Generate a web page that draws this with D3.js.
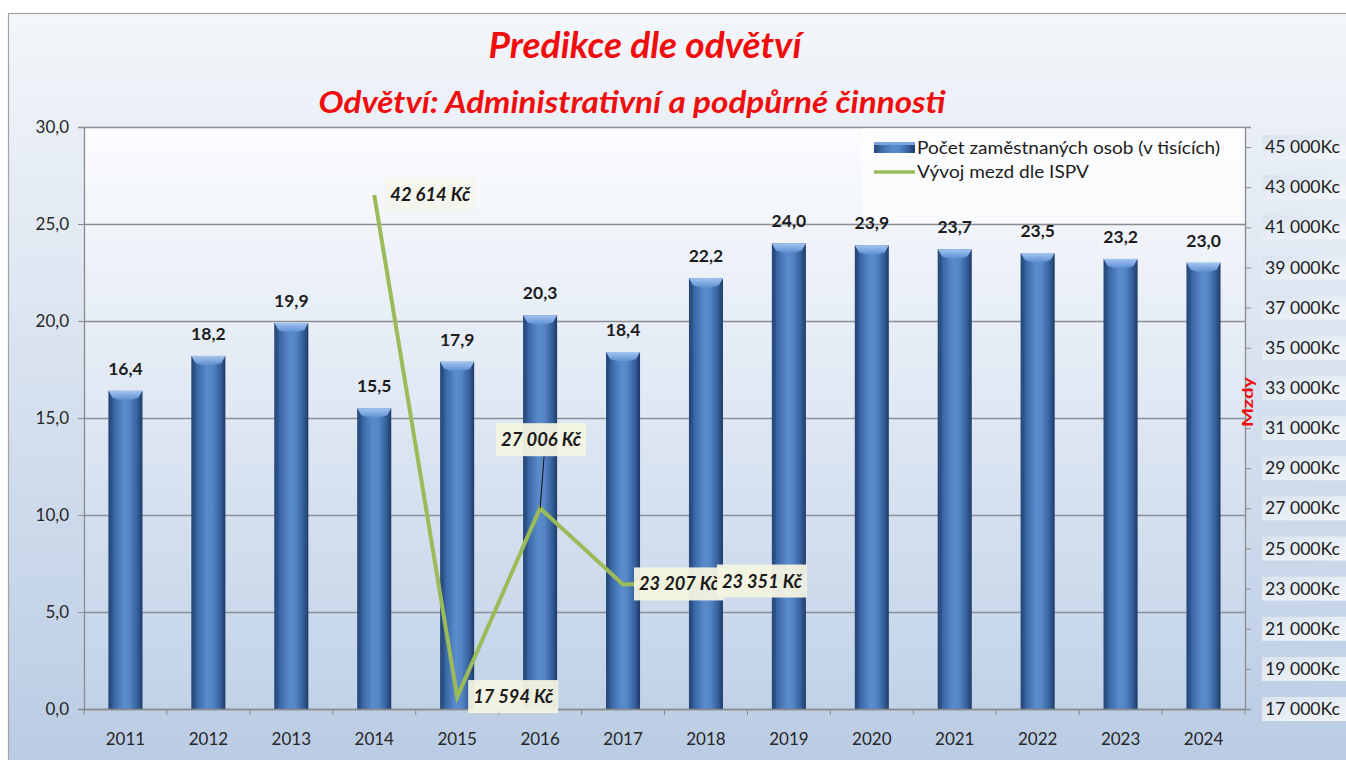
<!DOCTYPE html>
<html>
<head>
<meta charset="utf-8">
<script src="https://cdn.jsdelivr.net/npm/d3@7"></script>
<style>
  html, body { margin: 0; padding: 0; background: #ffffff; }
  svg { display: block; }
  text { font-family: Lato, "Open Sans", "DejaVu Sans", sans-serif; }
</style>
</head>
<body>
<svg id="chart" width="1346" height="760"></svg>
<script>
// ---------- DATA ----------
const years = ["2011","2012","2013","2014","2015","2016","2017","2018","2019","2020","2021","2022","2023","2024"];
const employees = [16.4, 18.2, 19.9, 15.5, 17.9, 20.3, 18.4, 22.2, 24.0, 23.9, 23.7, 23.5, 23.2, 23.0];
const wageYears = ["2014","2015","2016","2017","2018"];
const wages = [42614, 17594, 27006, 23207, 23351];
const leftTicks = [0, 5, 10, 15, 20, 25, 30];
const rightTicks = [17000, 19000, 21000, 23000, 25000, 27000, 29000, 31000, 33000, 35000, 37000, 39000, 41000, 43000, 45000];
const titleText = "Predikce dle odvětví";
const subtitleText = "Odvětví: Administrativní a podpůrné činnosti";
const seriesNames = ["Počet zaměstnaných osob (v tisících)", "Vývoj mezd dle ISPV"];
const rightAxisTitle = "Mzdy";
// label placement for wage labels (layout, not data)
const wageLabelPlacement = ["right", "right", "above", "right", "right"];

// ---------- SETUP ----------
const svg = d3.select("#chart");
const W = 1346, H = 760;
const plot = { left: 84, right: 1245, top: 127, bottom: 709 };

const cz = d3.formatLocale({ decimal: ",", thousands: "\u00a0", grouping: [3], currency: ["", " Kč"] });
const fmt1 = cz.format(".1f");
const fmtK = cz.format(",.0f");

const defs = svg.append("defs");
const gOuter = defs.append("linearGradient").attr("id", "outerBg").attr("x1", 0).attr("y1", 0).attr("x2", 0).attr("y2", 1);
gOuter.append("stop").attr("offset", "0%").attr("stop-color", "#f3f6fa");
gOuter.append("stop").attr("offset", "100%").attr("stop-color", "#b9cbe3");
const gPlot = defs.append("linearGradient").attr("id", "plotBg").attr("x1", 0).attr("y1", 0).attr("x2", 0).attr("y2", 1);
gPlot.append("stop").attr("offset", "0%").attr("stop-color", "#fbfcfe");
gPlot.append("stop").attr("offset", "100%").attr("stop-color", "#c1d2e8");
const gBar = defs.append("linearGradient").attr("id", "barGrad").attr("x1", 0).attr("y1", 0).attr("x2", 1).attr("y2", 0);
[["0%", "#27497c"], ["18%", "#3c69a8"], ["45%", "#5a8bcb"], ["62%", "#5586c6"], ["85%", "#36609c"], ["100%", "#1e3a66"]]
  .forEach(s => gBar.append("stop").attr("offset", s[0]).attr("stop-color", s[1]));
const gCap = defs.append("linearGradient").attr("id", "capGrad").attr("x1", 0).attr("y1", 0).attr("x2", 0).attr("y2", 1);
gCap.append("stop").attr("offset", "0%").attr("stop-color", "#a3c5f0");
gCap.append("stop").attr("offset", "100%").attr("stop-color", "#5a8cd0");
const gBox = defs.append("linearGradient").attr("id", "boxGrad").attr("x1", 0).attr("y1", 0).attr("x2", 1).attr("y2", 1);
gBox.append("stop").attr("offset", "0%").attr("stop-color", "#d9e3ef");
gBox.append("stop").attr("offset", "100%").attr("stop-color", "#f5f8fb");

// outer background + frame
svg.append("rect").attr("x", 0).attr("y", 0).attr("width", W).attr("height", H).attr("fill", "#ffffff");
svg.append("rect").attr("x", 8.5).attr("y", 13.5).attr("width", W).attr("height", H)
  .attr("fill", "url(#outerBg)").attr("stroke", "#a3a3a3").attr("stroke-width", 1.2);

// plot background
svg.append("rect").attr("x", plot.left).attr("y", plot.top)
  .attr("width", plot.right - plot.left).attr("height", plot.bottom - plot.top)
  .attr("fill", "url(#plotBg)");

// ---------- SCALES ----------
const x = d3.scaleBand().domain(years).range([plot.left, plot.right]).padding(0);
const yL = d3.scaleLinear().domain([0, 30]).range([plot.bottom, plot.top]);
const yR = d3.scaleLinear().domain([17000, 46000]).range([plot.bottom, plot.top]);
const barW = x.bandwidth() * 0.41;

// gridlines
svg.append("g").selectAll("line").data(leftTicks).join("line")
  .attr("x1", plot.left).attr("x2", plot.right)
  .attr("y1", d => Math.round(yL(d)) + 0.5).attr("y2", d => Math.round(yL(d)) + 0.5)
  .attr("stroke", "#8a8f96").attr("stroke-width", 1.3);

// ---------- TITLES ----------
svg.append("text").attr("x", 645).attr("y", 58).attr("text-anchor", "middle")
  .attr("font-size", 36).attr("font-weight", "bold").attr("font-style", "italic")
  .attr("fill", "#f00d0d").attr("textLength", 313).attr("lengthAdjust", "spacingAndGlyphs")
  .text(titleText);
svg.append("text").attr("x", 632).attr("y", 113).attr("text-anchor", "middle")
  .attr("font-size", 31).attr("font-weight", "bold").attr("font-style", "italic")
  .attr("fill", "#f00d0d").attr("textLength", 627).attr("lengthAdjust", "spacingAndGlyphs")
  .text(subtitleText);

// ---------- LEGEND BOX ----------
svg.append("rect").attr("x", 862).attr("y", plot.top + 1).attr("width", plot.right - 862).attr("height", 95)
  .attr("fill", "#ffffff").attr("fill-opacity", 0.55);

// ---------- BARS ----------
const bars = svg.append("g");
years.forEach((yr, i) => {
  const cx = x(yr) + x.bandwidth() / 2;
  const top = yL(employees[i]);
  const g = bars.append("g");
  g.append("rect").attr("x", cx - barW / 2).attr("y", top).attr("width", barW).attr("height", plot.bottom - top)
    .attr("fill", "url(#barGrad)");
  const x0 = cx - barW / 2, x1 = cx + barW / 2;
  g.append("path")
    .attr("d", `M${x0},${top} L${x1},${top} L${x1 - 4},${top + 7} Q${cx},${top + 12} ${x0 + 4},${top + 7} Z`)
    .attr("fill", "url(#capGrad)");
  g.append("path")
    .attr("d", `M${x0},${top} L${x0 + 4},${top + 7} L${x0 + 4},${plot.bottom} L${x0},${plot.bottom} Z`)
    .attr("fill", "#234574").attr("fill-opacity", 0.35);
  g.append("text").attr("x", cx).attr("y", top - 16).attr("text-anchor", "middle")
    .attr("font-size", 17.5).attr("font-weight", "bold").attr("fill", "#1c1c1c")
    .text(fmt1(employees[i]));
});

// ---------- AXES ----------
const axL = svg.append("g").attr("transform", `translate(${plot.left},0)`)
  .call(d3.axisLeft(yL).tickValues(leftTicks).tickSize(6).tickPadding(9).tickFormat(fmt1));
axL.select(".domain").attr("stroke", "#8a8a8a").attr("stroke-width", 1.3);
axL.selectAll(".tick line").attr("stroke", "#8a8a8a");
axL.selectAll(".tick text").attr("font-size", 17).attr("fill", "#262626").attr("font-family", "Lato, sans-serif");

const axB = svg.append("g").attr("transform", `translate(0,${plot.bottom})`)
  .call(d3.axisBottom(x).tickSize(0).tickPadding(24));
axB.select(".domain").attr("stroke", "#8a8a8a").attr("stroke-width", 1.3);
axB.selectAll(".tick text").attr("font-size", 17).attr("fill", "#262626").attr("font-family", "Lato, sans-serif");
svg.append("g").selectAll("line").data(d3.range(years.length + 1)).join("line")
  .attr("x1", i => plot.left + i * x.step()).attr("x2", i => plot.left + i * x.step())
  .attr("y1", plot.bottom).attr("y2", plot.bottom + 6).attr("stroke", "#8a8a8a");

const axR = svg.append("g").attr("transform", `translate(${plot.right},0)`)
  .call(d3.axisRight(yR).tickValues(rightTicks).tickSize(6).tickFormat(""));
axR.select(".domain").attr("stroke", "#8a8a8a").attr("stroke-width", 1.3);
axR.selectAll(".tick line").attr("stroke", "#8a8a8a");
const rLab = svg.append("g").selectAll("g").data(rightTicks).join("g")
  .attr("transform", d => `translate(1262,${yR(d)})`);
rLab.append("rect").attr("x", 0).attr("y", -12).attr("width", 90).attr("height", 24).attr("fill", "url(#boxGrad)");
rLab.append("text").attr("x", 3).attr("y", 0).attr("dy", "0.36em").attr("font-size", 17).attr("fill", "#1c1c1c")
  .attr("textLength", 75).attr("lengthAdjust", "spacingAndGlyphs")
  .text(d => fmtK(d) + "Kc");
svg.append("text").attr("transform", `translate(1253,${402}) rotate(-90)`).attr("text-anchor", "middle")
  .attr("font-size", 15).attr("font-weight", "bold").attr("fill", "#ee1111")
  .attr("textLength", 50).attr("lengthAdjust", "spacingAndGlyphs").text(rightAxisTitle);

// ---------- LINE ----------
const pts = wageYears.map((yr, i) => [x(yr) + x.bandwidth() / 2, yR(wages[i])]);
svg.append("path").datum(pts).attr("d", d3.line()).attr("fill", "none")
  .attr("stroke", "#9bbb59").attr("stroke-width", 4).attr("stroke-linejoin", "miter");

const labG = svg.append("g");
wageYears.forEach((yr, i) => {
  const [px, py] = pts[i];
  const txt = fmtK(wages[i]) + " Kč";
  let bx, by;
  const bw = 90, bh = 33;
  if (wageLabelPlacement[i] === "above") {
    bx = px - 44; by = py - 85;
    labG.append("line").attr("x1", px + 4).attr("y1", by + bh).attr("x2", px).attr("y2", py)
      .attr("stroke", "#111").attr("stroke-width", 1);
  } else {
    bx = px + 11; by = py - 17;
  }
  labG.append("rect").attr("x", bx).attr("y", by).attr("width", bw).attr("height", bh)
    .attr("fill", "#f4f4e2").attr("fill-opacity", i === 0 ? 0.55 : 0.95);
  labG.append("text").attr("x", bx + 5).attr("y", by + bh / 2).attr("dy", "0.36em")
    .attr("font-size", 18).attr("font-weight", "bold").attr("font-style", "italic").attr("fill", "#1a1a1a")
    .attr("textLength", 80).attr("lengthAdjust", "spacingAndGlyphs")
    .text(txt);
});

// ---------- LEGEND ----------
const lg = svg.append("g");
lg.append("rect").attr("x", 874).attr("y", 142).attr("width", 41).attr("height", 11).attr("fill", "url(#barGrad)");
lg.append("rect").attr("x", 874).attr("y", 142).attr("width", 41).attr("height", 3).attr("fill", "#7aa5dc");
lg.append("text").attr("x", 917).attr("y", 148).attr("dy", "0.36em").attr("font-size", 18).attr("fill", "#1c1c1c")
  .attr("textLength", 303).attr("lengthAdjust", "spacingAndGlyphs")
  .text(seriesNames[0]);
lg.append("line").attr("x1", 874).attr("x2", 915).attr("y1", 172).attr("y2", 172).attr("stroke", "#9bbb59").attr("stroke-width", 3.5);
lg.append("text").attr("x", 917).attr("y", 172).attr("dy", "0.36em").attr("font-size", 18).attr("fill", "#1c1c1c")
  .attr("textLength", 172).attr("lengthAdjust", "spacingAndGlyphs")
  .text(seriesNames[1]);
</script>
</body>
</html>
